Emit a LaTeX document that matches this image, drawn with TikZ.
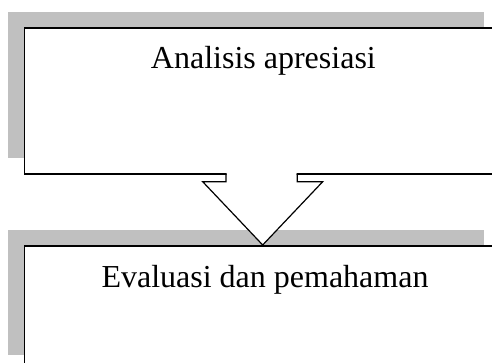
\documentclass[tikz,border=0pt]{standalone}
\usepackage{fontspec}
\setmainfont{Liberation Serif}
\begin{document}
\begin{tikzpicture}[x=1pt,y=-1pt,
  mainbox/.style={draw=black,line width=1.8pt,fill=white,anchor=north west,inner sep=0pt},
  lbl/.style={anchor=base,inner sep=0pt,font=\fontsize{32}{36}\selectfont},
  blockarrow/.style={draw=black,line width=1.2pt,line join=miter}]
\definecolor{shadowgray}{RGB}{192,192,192}
\useasboundingbox (0,0) rectangle (492,363);
\clip (0,0) rectangle (492,363);
% shadows
\fill[shadowgray] (8,12) rectangle (484,158);
\fill[shadowgray] (8,230) rectangle (484,355);
% boxes
\node[mainbox,minimum width=500pt,minimum height=145.5pt] (box1) at (23.5,27.5) {};
\node[mainbox,minimum width=500pt,minimum height=140pt] (box2) at (23.5,245) {};
% texts
\node[lbl] (t1) at (263.4,68.3) {Analisis apresiasi};
\node[lbl] (t2) at (265,287.3) {Evaluasi dan pemahaman};
% block arrow
\coordinate (a1) at (226,173);
\coordinate (a2) at (226,181.7);
\coordinate (a3) at (202.7,181.7);
\coordinate (tip) at (262.7,245);
\coordinate (a5) at (322.7,181.7);
\coordinate (a6) at (297.3,181.7);
\coordinate (a7) at (297.3,173);
\fill[white] (226.6,171.5) -- (226.6,181.1) -- (a3) -- (tip) -- (a5) -- (296.7,181.1) -- (296.7,171.5) -- cycle;
\draw[blockarrow] ([yshift=-0.9pt]a1) -- (a2) -- (a3) -- (tip) -- (a5) -- (a6) -- ([yshift=-0.9pt]a7);
\end{tikzpicture}
\end{document}
